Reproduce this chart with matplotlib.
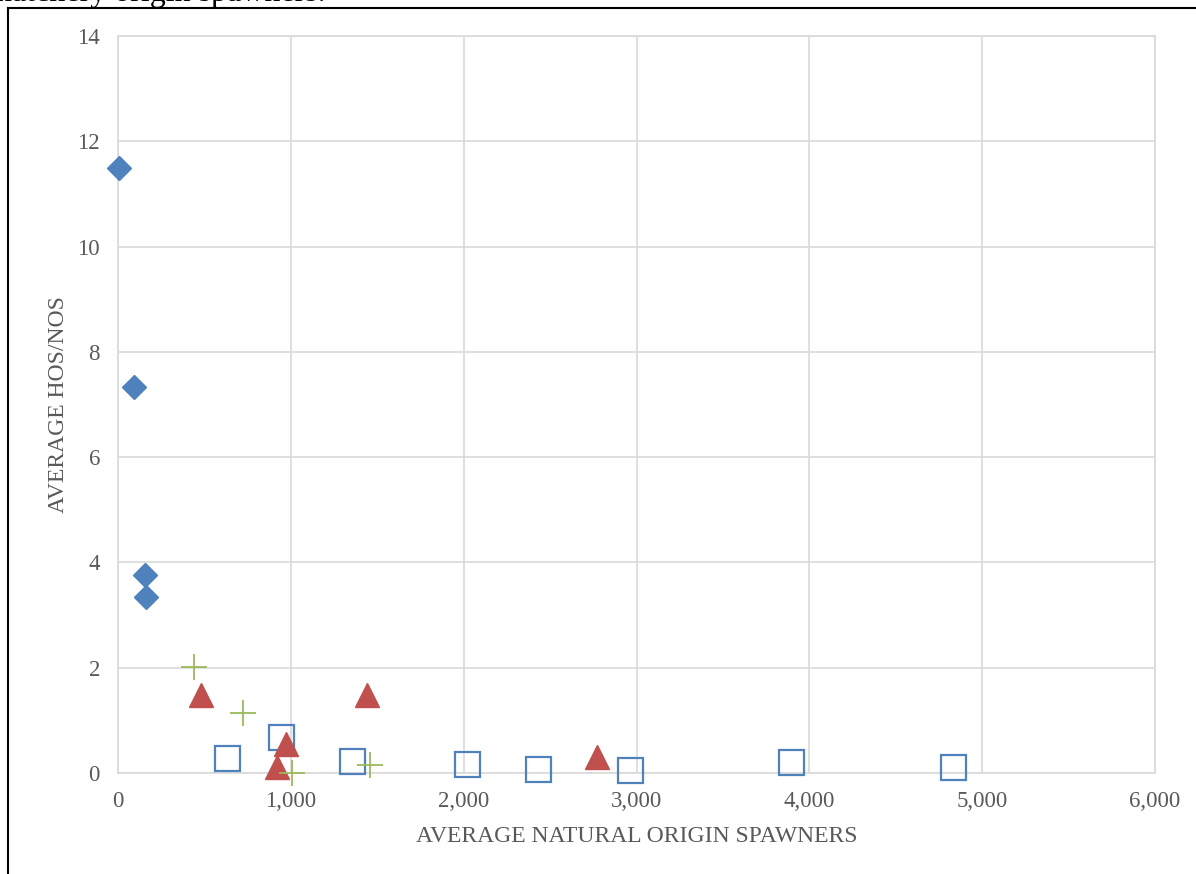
import matplotlib.pyplot as plt
from matplotlib.lines import Line2D
from matplotlib.ticker import FuncFormatter

plt.rcParams['font.family'] = ['Liberation Serif', 'DejaVu Serif']

# average natural origin spawners (x) vs average HOS/NOS (y), four groups
diamond_x = [5, 93, 156, 162]
diamond_y = [11.5, 7.33, 3.76, 3.34]

plus_x = [440, 723, 1007, 1458]
plus_y = [2.01, 1.14, 0.0, 0.15]

triangle_x = [480, 1441, 971, 918, 2774]
triangle_y = [1.48, 1.48, 0.56, 0.12, 0.30]

square_x = [629, 945, 1354, 2020, 2432, 2963, 3893, 4834]
square_y = [0.28, 0.69, 0.23, 0.18, 0.08, 0.06, 0.21, 0.12]

W, H = 1196, 874
fig = plt.figure(figsize=(W / 100, H / 100), dpi=100)
ax = fig.add_axes([118 / W, (H - 773) / H, (1155 - 118) / W, (773 - 36) / H])

grid_c = '#d9d9d9'
text_c = '#595959'

ax.plot(diamond_x, diamond_y, ls='none', marker='D', ms=12.5,
        color='#4f81bd', mec='#4f81bd', clip_on=False, zorder=5)
ax.plot(square_x, square_y, ls='none', marker='s', ms=18, mfc='none',
        mec='#4f81bd', mew=1.6, clip_on=False, zorder=4)
ax.plot(triangle_x, triangle_y, ls='none', marker='^', ms=17.5,
        color='#c0504d', clip_on=False, zorder=5)
ax.plot(plus_x, plus_y, ls='none', marker='+', ms=18.5, mew=1.3,
        color='#9bbb59', clip_on=False, zorder=6)

ax.set_xlim(0, 6000)
ax.set_ylim(0, 14)
ax.set_xticks(range(0, 6001, 1000))
ax.set_yticks(range(0, 15, 2))
ax.xaxis.set_major_formatter(FuncFormatter(lambda v, p: f'{int(v):,}'))
ax.grid(True, color=grid_c, lw=1.2)
ax.set_axisbelow(True)
for s in ax.spines.values():
    s.set_color(grid_c)
    s.set_linewidth(1.2)
ax.tick_params(length=0, labelsize=16.5, colors=text_c)
ax.tick_params(axis='x', pad=13)
ax.tick_params(axis='y', pad=13)

ax.set_xlabel('AVERAGE NATURAL ORIGIN SPAWNERS', fontsize=17,
              color=text_c, labelpad=10)
ax.set_ylabel('AVERAGE HOS/NOS', fontsize=17, color=text_c, labelpad=6)

# page frame and the clipped line of text above it
fig.add_artist(Line2D([8 / W, 1], [1 - 8 / H, 1 - 8 / H], color='black', lw=1.5))
fig.add_artist(Line2D([8 / W, 8 / W], [0, 1 - 8 / H], color='black', lw=1.5))
fig.text(-4 / W, 1 + 6 / H, 'hatchery origin spawners.', fontsize=23,
         va='center', ha='left', color='black')

fig.savefig('out.png', dpi=100)
